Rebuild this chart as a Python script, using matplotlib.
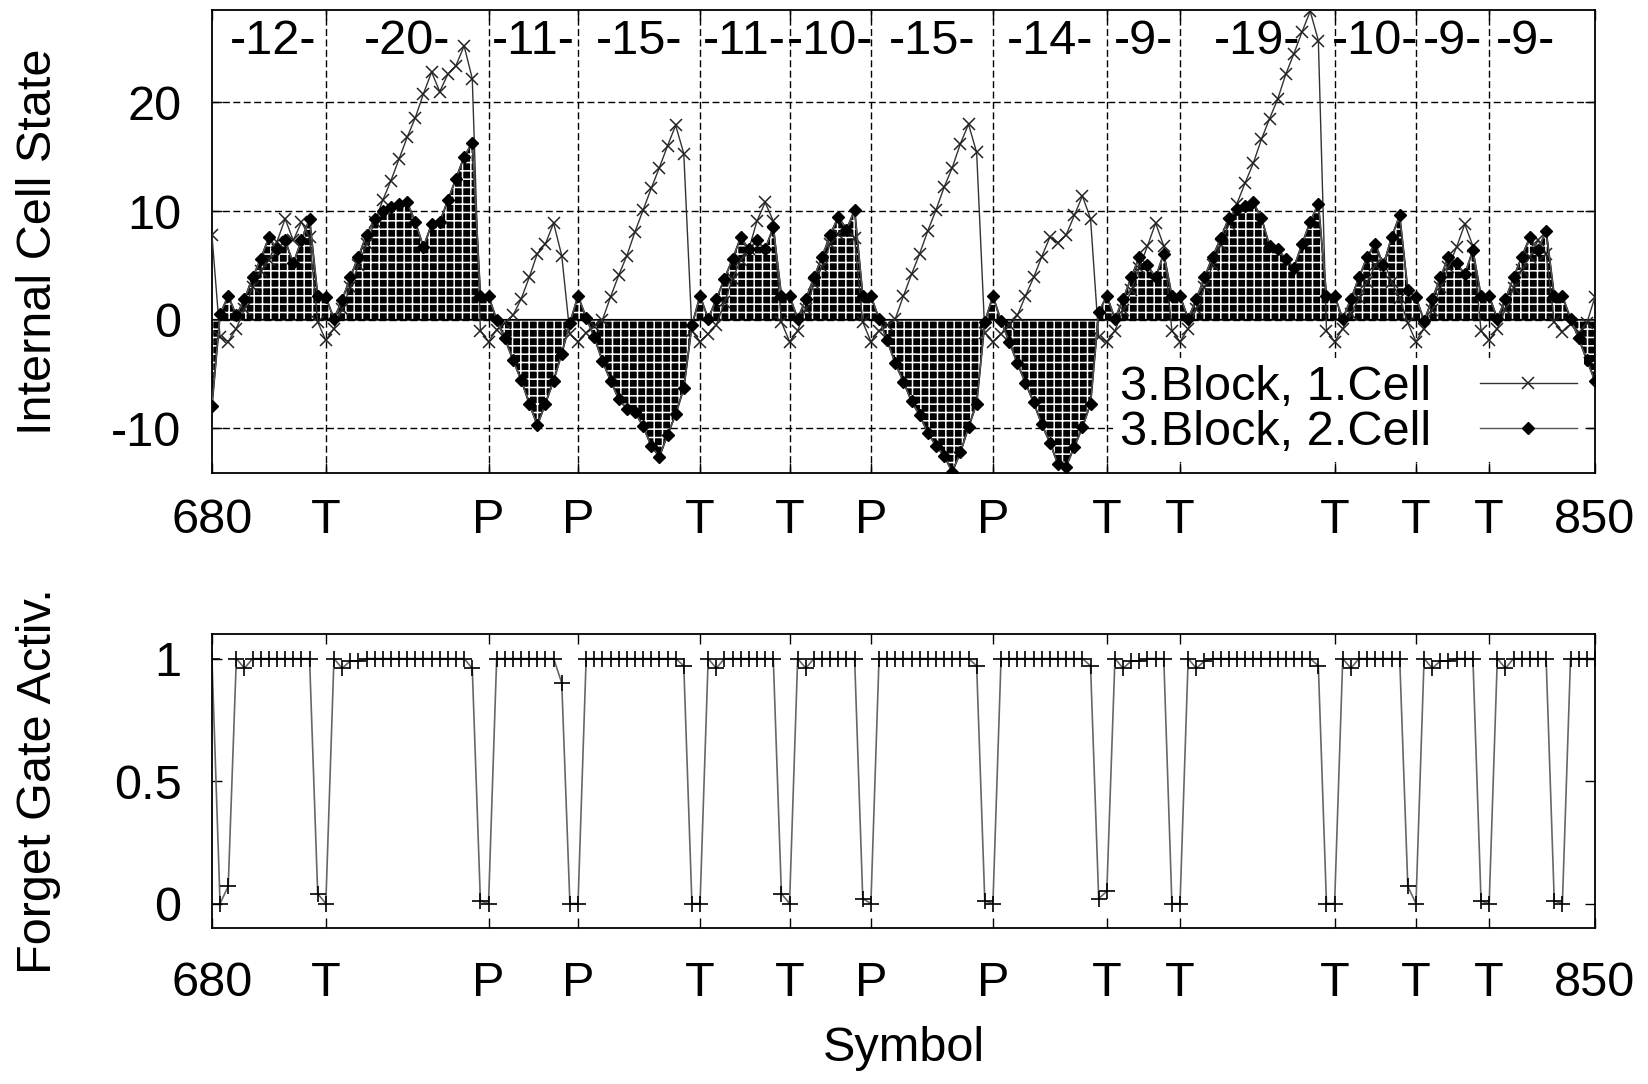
import matplotlib.pyplot as plt
import numpy as np

plt.rcParams['font.family'] = ['Liberation Sans', 'DejaVu Sans']
plt.rcParams['axes.unicode_minus'] = False
plt.rcParams['hatch.color'] = 'white'
plt.rcParams['hatch.linewidth'] = 1.1

x = np.arange(680, 851)

# 3.Block, 1.Cell  (680 ... 850)
cell1 = [7.8, -1.6, -2.0, -0.8, 1.0, 3.0, 4.5, 5.5, 7.2, 9.3,
         7.3, 9.0, 7.6, -0.2, -1.9, -0.8, 1.0, 3.0, 5.0, 7.0,
         9.0, 11.0, 12.8, 14.8, 16.8, 18.6, 20.8, 22.8, 21.0, 22.6,
         23.4, 25.2, 22.2, -1.0, -2.0, -0.9, -0.3, 0.4, 1.9, 3.9,
         6.1, 7.0, 8.9, 5.9, -1.3, -2.0, -1.2, -0.6, 0.0, 2.1,
         4.1, 5.9, 8.1, 10.1, 12.1, 14.0, 16.0, 17.9, 15.3, -1.0,
         -2.0, -1.3, -0.5, 1.6, 3.8, 5.5, 6.5, 9.1, 10.8, 9.1,
         -0.2, -2.0, -1.0, 1.0, 3.3, 4.9, 7.0, 7.9, 8.5, 7.5,
         -0.2, -2.0, -1.0, -0.5, 0.1, 2.2, 4.2, 6.1, 8.2, 10.1,
         12.2, 14.0, 16.2, 18.0, 15.4, -1.2, -2.0, -1.3, -0.5, 0.4,
         2.2, 3.9, 5.8, 7.6, 7.1, 7.8, 9.6, 11.4, 9.3, -1.6,
         -2.0, -1.0, 0.9, 2.7, 4.8, 6.8, 8.9, 6.8, -1.0, -2.0,
         -0.8, 1.0, 3.0, 5.0, 6.9, 8.8, 10.7, 12.6, 14.4, 16.6,
         18.5, 20.3, 22.6, 24.5, 26.5, 28.4, 25.7, -1.0, -2.0, -0.8,
         0.5, 2.0, 3.5, 5.0, 5.5, 3.5, 2.0, -0.3, -2.0, -0.8,
         0.9, 3.0, 4.9, 6.7, 8.8, 6.8, -1.0, -1.9, -0.8, 1.0,
         2.9, 4.6, 5.8, 7.3, 6.1, -0.2, -1.1, -0.4, -1.2, -0.3,
         2.1]

# 3.Block, 2.Cell
cell2 = [-7.9, 0.5, 2.2, 0.4, 1.9, 3.9, 5.6, 7.6, 6.5, 7.3,
         5.2, 7.3, 9.3, 2.2, 2.1, 0.1, 1.8, 3.9, 5.8, 7.8,
         9.3, 10.0, 10.4, 10.7, 10.8, 9.0, 6.7, 8.8, 9.0, 11.0,
         13.0, 15.0, 16.3, 2.2, 2.2, 0.0, -1.7, -3.7, -5.5, -7.7,
         -9.7, -7.7, -5.6, -3.1, -0.3, 2.2, 0.2, -1.6, -3.8, -5.6,
         -7.3, -8.2, -8.5, -9.8, -11.6, -12.6, -10.6, -8.7, -6.3, -0.5,
         2.2, 0.1, 1.9, 3.8, 5.6, 7.6, 6.5, 7.3, 6.5, 8.5,
         2.2, 2.2, 0.1, 1.9, 3.9, 5.8, 7.8, 9.5, 8.3, 10.1,
         2.2, 2.2, 0.1, -1.9, -4.0, -5.7, -7.5, -8.8, -10.4, -11.6,
         -12.5, -14.0, -12.2, -9.9, -7.7, -0.2, 2.2, -0.1, -2.0, -4.0,
         -5.8, -7.6, -9.6, -11.3, -13.3, -13.5, -11.7, -9.9, -7.7, 0.7,
         2.2, 0.1, 1.9, 3.9, 5.8, 5.0, 3.9, 6.1, 2.2, 2.2,
         0.1, 1.9, 3.9, 5.8, 7.5, 9.4, 10.2, 10.5, 10.8, 9.4,
         6.8, 6.5, 5.6, 4.8, 7.0, 9.0, 10.7, 2.2, 2.2, 0.1,
         1.9, 3.9, 5.8, 7.0, 5.0, 7.6, 9.6, 2.7, 2.1, -0.1,
         1.9, 3.9, 5.8, 5.2, 4.2, 6.4, 2.2, 2.2, 0.1, 1.9,
         3.9, 5.8, 7.6, 6.4, 8.2, 2.2, 2.2, 0.1, -1.7, -3.7,
         -5.6]

# forget gate activation
forget = [1.0, 0.0, 0.07, 1.0, 0.96, 1.0, 1.0, 1.0, 1.0, 1.0,
          1.0, 1.0, 1.0, 0.04, 0.0, 1.0, 0.96, 0.99, 0.99, 1.0,
          1.0, 1.0, 1.0, 1.0, 1.0, 1.0, 1.0, 1.0, 1.0, 1.0,
          1.0, 1.0, 0.96, 0.01, 0.0, 1.0, 1.0, 1.0, 1.0, 1.0,
          1.0, 1.0, 1.0, 0.9, 0.0, 0.0, 1.0, 1.0, 1.0, 1.0,
          1.0, 1.0, 1.0, 1.0, 1.0, 1.0, 1.0, 1.0, 0.97, 0.0,
          0.0, 1.0, 0.96, 1.0, 1.0, 1.0, 1.0, 1.0, 1.0, 1.0,
          0.04, 0.0, 1.0, 0.96, 1.0, 1.0, 1.0, 1.0, 1.0, 1.0,
          0.02, 0.0, 1.0, 1.0, 1.0, 1.0, 1.0, 1.0, 1.0, 1.0,
          1.0, 1.0, 1.0, 1.0, 0.97, 0.01, 0.0, 1.0, 1.0, 1.0,
          1.0, 1.0, 1.0, 1.0, 1.0, 1.0, 1.0, 1.0, 0.97, 0.02,
          0.05, 1.0, 0.96, 0.99, 0.99, 1.0, 1.0, 1.0, 0.0, 0.0,
          1.0, 0.96, 0.99, 1.0, 1.0, 1.0, 1.0, 1.0, 1.0, 1.0,
          1.0, 1.0, 1.0, 1.0, 1.0, 1.0, 0.97, 0.0, 0.0, 1.0,
          0.96, 1.0, 1.0, 1.0, 1.0, 1.0, 1.0, 0.07, 0.0, 1.0,
          0.96, 0.99, 0.99, 1.0, 1.0, 1.0, 0.01, 0.0, 1.0, 0.96,
          1.0, 1.0, 1.0, 1.0, 1.0, 0.01, 0.0, 1.0, 1.0, 1.0,
          1.0]

tick_pos = [680, 694, 714, 725, 740, 751, 761, 776, 790, 799, 818, 828, 837, 850]
tick_lab = ['680', 'T', 'P', 'P', 'T', 'T', 'P', 'P', 'T', 'T', 'T', 'T', 'T', '850']
seg_bounds = [681, 694, 714, 725, 740, 751, 761, 776, 790, 799, 818, 828, 837, 846]
seg_lab = ['-12-', '-20-', '-11-', '-15-', '-11-', '-10-', '-15-', '-14-',
           '-9-', '-19-', '-10-', '-9-', '-9-']

fs = 35
fig = plt.figure(figsize=(16.48, 10.84), dpi=100)
ax1 = fig.add_axes([0.1286, 0.5636, 0.8392, 0.4271])
ax2 = fig.add_axes([0.1286, 0.1439, 0.8392, 0.2712])

# upper panel: hatched area of cell 2, with a dark outline
ax1.fill_between(x, 0, cell2, interpolate=True, facecolor='black',
                 edgecolor='white', hatch='++', linewidth=0, zorder=2)
ax1.fill_between(x, 0, cell2, interpolate=True, facecolor='none',
                 edgecolor='black', linewidth=1.3, zorder=2)
ax1.plot(x, cell1, color='#333333', lw=1.0, marker='x', ms=8.5, mew=1.1,
         mec='#222222', label='3.Block, 1.Cell', zorder=3)
ax1.plot(x, cell2, color='#555555', lw=1.0, marker='D', ms=6.5,
         mfc='black', mec='black', label='3.Block, 2.Cell', zorder=3)
for g in tick_pos[1:-1]:
    ax1.axvline(g, color='black', lw=1.0, ls=(0, (5, 2.5)), zorder=1)
for g in [-10, 0, 10, 20]:
    ax1.axhline(g, color='black', lw=1.0, ls=(0, (5, 2.5)), zorder=1)
ax1.set_xlim(680, 850)
ax1.set_ylim(-14.1, 28.5)
ax1.set_yticks([-10, 0, 10, 20])
ax1.set_xticks(tick_pos)
ax1.set_xticklabels(tick_lab)
ax1.set_ylabel('Internal Cell State', fontsize=fs)
ax1.yaxis.set_label_coords(-0.109, 0.5)
for i, lab in enumerate(seg_lab):
    ax1.text((seg_bounds[i] + seg_bounds[i + 1]) / 2, 25.6, lab,
             fontsize=fs, ha='center', va='center', zorder=4)
leg = ax1.legend(loc='lower right', fontsize=fs, markerfirst=False,
                 frameon=True, fancybox=False, edgecolor='none',
                 facecolor='white', framealpha=1, numpoints=1,
                 handlelength=2.0, handletextpad=1.0, labelspacing=0.0,
                 borderpad=0.15, borderaxespad=0.22)
leg.set_zorder(5)

# lower panel
ax2.plot(x, forget, color='#666666', lw=1.2, marker='+', ms=12, mew=1.2,
         mec='black')
ax2.set_xlim(680, 850)
ax2.set_ylim(-0.1, 1.1)
ax2.set_yticks([0, 0.5, 1])
ax2.set_yticklabels(['0', '0.5', '1'])
ax2.set_xticks(tick_pos)
ax2.set_xticklabels(tick_lab)
ax2.set_ylabel('Forget Gate Activ.', fontsize=fs)
ax2.yaxis.set_label_coords(-0.109, 0.5)
ax2.set_xlabel('Symbol', fontsize=fs)
ax2.xaxis.set_label_coords(0.5, -0.333)

for ax in (ax1, ax2):
    ax.tick_params(direction='in', length=7, width=1, top=True, right=True,
                   labelsize=fs)
    ax.tick_params(axis='y', pad=22)
    for s in ax.spines.values():
        s.set_linewidth(1.3)
ax1.tick_params(axis='x', pad=18)
ax2.tick_params(axis='x', pad=24)

fig.savefig('out.png', dpi=100)
